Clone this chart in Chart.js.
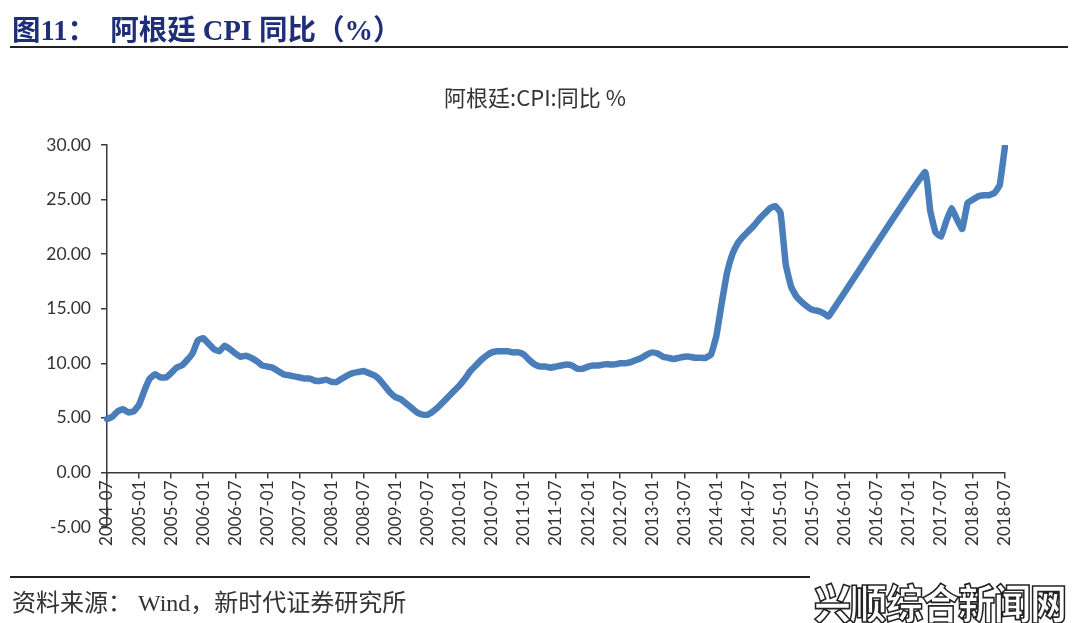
<!DOCTYPE html>
<html>
<head>
<meta charset="utf-8">
<script src="https://cdn.jsdelivr.net/npm/chart.js@4"></script>
<style>
  html, body { margin: 0; padding: 0; background: #fff; }
  body { width: 1080px; height: 623px; position: relative; overflow: hidden; }
  #wrap { position: absolute; left: 0; top: 0; width: 1080px; height: 623px; }
  .head {
    position: absolute; left: 12px; top: 7px;
    font: bold 28.5px "Liberation Serif", "Noto Sans CJK SC", serif;
    color: #1f2e78; white-space: pre;
  }
  .title {
    position: absolute; left: 0; width: 1070px; top: 80px; text-align: center;
    font: 22px "Noto Sans CJK SC", sans-serif; color: #333;
  }
  .rule { position: absolute; left: 10px; height: 2px; background: #222; }
  .foot {
    position: absolute; left: 12px; top: 583px;
    font: 24px "Liberation Serif", "Noto Sans CJK SC", serif;
    color: #333; white-space: pre;
  }
  .mark {
    position: absolute; left: 814px; top: 572px;
    font: 900 37px "Noto Sans CJK SC", sans-serif;
    color: #fff; -webkit-text-stroke: 1.5px #222;
    letter-spacing: -1px; transform: scaleY(1.1); transform-origin: top left;
  }
</style>
</head>
<body>
<div id="wrap"><canvas id="chart-cpi" width="1080" height="623"></canvas></div>
<div class="head">图11：  阿根廷 CPI 同比（%）</div>
<div class="rule" style="top:46px; width:1058px;"></div>
<div class="title" id="chart-title"></div>
<div class="rule" style="top:576px; width:800px;"></div>
<div class="foot">资料来源： Wind，新时代证券研究所</div>
<div class="mark">兴顺综合新闻网</div>

<script>
const $ = document.querySelector.bind(document);

const chartTitle = "阿根廷:CPI:同比 %";

// monthly categories 2004-07 .. 2018-07
const startYear = 2004;
const startMonth = 7;
const monthCount = 169;
const months = [];
for (let i = 0; i < monthCount; i++) {
  const m = startMonth - 1 + i;
  const y = startYear + Math.floor(m / 12);
  months.push(y + "-" + String((m % 12) + 1).padStart(2, "0"));
}

// CPI yoy, % (null = no data, line spans the gap)
const cpiYoy = [
  4.9, 5.1, 5.6, 5.8, 5.5, 5.6,                 // 2004-07..12
  6.2, 7.5, 8.6, 9.0, 8.7, 8.7,                 // 2005-01..06
  9.1, 9.6, 9.8, 10.3, 10.9, 12.1,              // 2005-07..12
  12.3, 11.8, 11.3, 11.1, 11.6, 11.3,           // 2006-01..06
  10.9, 10.6, 10.7, 10.5, 10.2, 9.8,            // 2006-07..12
  9.7, 9.6, 9.3, 9.0, 8.9, 8.8,                 // 2007-01..06
  8.7, 8.6, 8.6, 8.4, 8.4, 8.5,                 // 2007-07..12
  8.3, 8.3, 8.6, 8.9, 9.1, 9.2,                 // 2008-01..06
  9.3, 9.1, 8.9, 8.5, 7.9, 7.3,                 // 2008-07..12
  6.9, 6.7, 6.3, 5.9, 5.5, 5.3,                 // 2009-01..06
  5.3, 5.6, 6.0, 6.5, 7.0, 7.5,                 // 2009-07..12
  8.0, 8.6, 9.3, 9.8, 10.3, 10.7,               // 2010-01..06
  11.0, 11.1, 11.1, 11.1, 11.0, 11.0,           // 2010-07..12
  10.8, 10.3, 9.9, 9.7, 9.7, 9.6,               // 2011-01..06
  9.7, 9.8, 9.9, 9.8, 9.5, 9.5,                 // 2011-07..12
  9.7, 9.8, 9.8, 9.9, 9.9, 9.9,                 // 2012-01..06
  10.0, 10.0, 10.1, 10.3, 10.5, 10.8,           // 2012-07..12
  11.0, 10.9, 10.6, 10.5, 10.4, 10.5,           // 2013-01..06
  10.6, 10.6, 10.5, 10.5, 10.5, 10.8,           // 2013-07..12
  12.5, 15.5, 18.3, 20.0, 21.0, 21.6,           // 2014-01..06
  22.1, 22.6, 23.2, 23.7, 24.2, 24.4,           // 2014-07..12
  23.8, 19.0, 17.0, 16.1, 15.6, 15.2,           // 2015-01..06
  14.9, 14.8, 14.6, 14.3, null, null,           // 2015-07..12
  null, null, null, null, null, null,           // 2016-01..06
  null, null, null, null, null, null,           // 2016-07..12
  null, null, null, 27.5, 24.0, 22.0,           // 2017-01..06
  21.6, 23.0, 24.2, 23.2, 22.3, 24.7,           // 2017-07..12
  25.0, 25.3, 25.4, 25.4, 25.6, 26.3,           // 2018-01..06
  29.9,                                         // 2018-07
];

const yTicks = [-5, 0, 5, 10, 15, 20, 25, 30];
const labelEvery = 6;

const axisColor = "#3a3a3a";
const textColor = "#333";
const lineColor = "rgb(74, 126, 187)";

$("#chart-title").textContent = chartTitle;

new Chart($("#chart-cpi"), {
  type: "line",
  data: {
    labels: months,
    datasets: [
      {
        label: chartTitle,
        data: cpiYoy,
        borderColor: lineColor,
        backgroundColor: lineColor,
        borderWidth: 6.5,
        pointRadius: 0,
        tension: 0.1,
        spanGaps: true,
        borderJoinStyle: "round",
        borderCapStyle: "round",
      },
    ],
  },
  options: {
    responsive: false,
    animation: false,
    layout: { padding: { left: 0, right: 75, top: 145, bottom: 96 } },
    plugins: {
      legend: { display: false },
      tooltip: { enabled: false },
      title: { display: false },
    },
    scales: {
      x: {
        type: "category",
        position: { y: 0 },
        border: { color: axisColor, width: 1.5 },
        grid: {
          drawOnChartArea: false,
          drawTicks: true,
          tickLength: 5,
          lineWidth: 1.5,
          color: (ctx) => (ctx.index % labelEvery === 0 ? axisColor : "rgba(0,0,0,0)"),
        },
        ticks: {
          autoSkip: false,
          minRotation: 90,
          maxRotation: 90,
          padding: 3,
          color: textColor,
          font: { family: "Lato, 'Open Sans', sans-serif", size: 17 },
          callback: function (val, i) {
            return i % labelEvery === 0 ? this.getLabelForValue(val) : "";
          },
        },
      },
      y: {
        min: yTicks[0],
        max: yTicks[yTicks.length - 1],
        afterFit: (scale) => {
          scale.width = 107;
        },
        afterBuildTicks: (scale) => {
          scale.ticks = yTicks.map((v) => ({ value: v }));
        },
        border: { color: axisColor, width: 1.5 },
        grid: {
          drawOnChartArea: false,
          drawTicks: true,
          tickLength: 6,
          lineWidth: 1.5,
          color: axisColor,
        },
        ticks: {
          padding: 10,
          color: textColor,
          font: { family: "Lato, 'Open Sans', sans-serif", size: 17.5 },
          callback: (v) => Number(v).toFixed(2),
        },
      },
    },
  },
});
</script>
</body>
</html>
